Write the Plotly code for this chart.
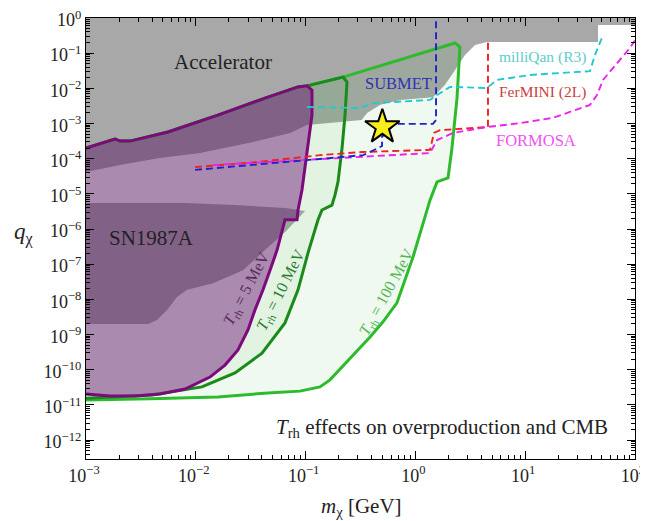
import numpy as np
import plotly.graph_objects as go

SERIF = "'Liberation Serif', 'DejaVu Serif', serif"

# ---------------- data (log10 of m_chi [GeV] and q_chi) ----------------
accel_logm = [-3, 2, 2, 1.663, 1.663, 0.652, 0.543, 0.452, 0.361, 0.270, 0.160, -0.14, -0.32, -0.44,
              -0.49, -0.69, -0.99, -1.14, -1.51, -1.96, -2.33, -2.69, -3]
accel_logq = [0, 0, -0.2, -0.2, -0.68, -0.68, -0.77, -1.05, -1.48, -1.9, -2.25, -2.33, -2.47, -2.70,
              -2.90, -2.96, -3.04, -3.27, -3.55, -3.84, -3.98, -4.18, -4.38]

sn_logm = [-3, -2.098, -1.643, -1.188, -1.005, -1.188, -1.370, -1.570, -1.843, -2.080, -2.171,
           -2.262, -2.353, -2.435, -3]
sn_logq = [-5.26, -5.26, -5.32, -5.40, -5.49, -6.09, -6.60, -7.17, -7.54, -7.73, -7.93,
           -8.30, -8.59, -8.70, -8.70]

trh5_logm = [-3, -2.736, -2.69, -2.599, -2.253, -1.798, -1.342, -1.069, -0.987, -0.942, -0.942,
             -0.987, -1.033, -1.069, -1.078, -1.188, -1.26, -1.324, -1.388, -1.461, -1.525,
             -1.616, -1.734, -1.871, -2.098, -2.326, -2.554, -2.781, -3]
trh5_logq = [-3.70, -3.44, -3.50, -3.50, -3.24, -2.76, -2.25, -1.96, -1.93, -2.05, -2.76,
             -3.75, -4.89, -5.46, -5.74, -5.74, -6.60, -7.17, -7.73, -8.30, -8.87,
             -9.44, -9.87, -10.21, -10.55, -10.69, -10.75, -10.75, -10.69]

trh10_logm = [-3, -2.736, -2.69, -2.599, -2.253, -1.798, -1.342, -1.069, -0.987, -0.659, -0.623,
              -0.641, -0.668, -0.705, -0.732, -0.760, -0.851, -0.887, -0.978, -1.069, -1.188,
              -1.397, -1.643, -1.944, -2.399, -3]
trh10_logq = [-3.70, -3.44, -3.50, -3.50, -3.24, -2.76, -2.25, -1.96, -1.93, -1.68, -1.82,
              -2.76, -3.70, -4.66, -5.03, -5.32, -5.46, -5.74, -6.68, -7.73, -8.67,
              -9.53, -10.09, -10.49, -10.72, -10.81]

trh100_logm = [-3, -2.736, -2.69, -2.599, -2.253, -1.798, -1.342, -1.069, -0.987, -0.659,
               0.361, 0.406, 0.379, 0.333, 0.297, 0.197, 0.133, 0.042, -0.022, -0.168, -0.295,
               -0.413, -0.541, -0.659, -0.778, -0.869, -1.051, -1.342, -1.798, -2.417, -3]
trh100_logq = [-3.70, -3.44, -3.50, -3.50, -3.24, -2.76, -2.25, -1.96, -1.93, -1.68,
               -0.71, -0.83, -2.28, -3.70, -4.55, -4.66, -5.18, -6.11, -6.80, -8.10, -8.64,
               -9.07, -9.50, -9.92, -10.29, -10.49, -10.61, -10.66, -10.78, -10.83, -10.86]

submet_logm = [-2.007, -1.005, -0.687, -0.477, -0.413, -0.304, -0.304, -0.186, 0.160, 0.188, 0.188]
submet_logq = [-4.32, -4.04, -3.95, -3.90, -3.81, -3.64, -3.38, -3.01, -3.01, -2.90, 0]

fermini_logm = [-2.007, -1.415, -0.869, -0.477, 0.133, 0.169, 0.224, 0.652, 0.661, 0.661]
fermini_logq = [-4.24, -4.09, -3.90, -3.81, -3.75, -3.27, -3.19, -3.10, -3.10, -0.68]

formosa_logm = [-1.843, -1.005, -0.441, 0.133, 0.197, 0.342, 0.652, 0.953, 1.253, 1.590, 1.654,
                1.709, 1.954, 2.0]
formosa_logq = [-4.18, -4.04, -3.95, -3.84, -3.47, -3.27, -3.10, -2.99, -2.84, -2.47, -2.19,
                -1.76, -0.85, -0.63]

milliqan_logm = [-0.987, -0.505, -0.386, -0.231, 0.133, 0.197, 0.315, 0.652, 0.743, 1.044, 1.590,
                 1.636, 1.709]
milliqan_logq = [-2.53, -2.56, -2.42, -2.39, -2.33, -2.19, -1.96, -1.99, -1.76, -1.62, -1.51,
                 -1.05, -0.48]

star_m = [0.5]
star_q = [8e-4]

x_tickvals = [1e-3, 1e-2, 1e-1, 1e0, 1e1, 1e2]
x_ticktext = ["10<sup>−3</sup>", "10<sup>−2</sup>", "10<sup>−1</sup>", "10<sup>0</sup>",
              "10<sup>1</sup>", "10<sup>2</sup>"]
y_exps = list(range(-12, 1))
y_tickvals = [10.0 ** e for e in y_exps]
y_ticktext = [("10<sup>−%d</sup>" % -e) if e < 0 else "10<sup>0</sup>" for e in y_exps]


def P(lm, lq):
    return 10 ** np.array(lm, dtype=float), 10 ** np.array(lq, dtype=float)


fig = go.Figure()


def fill(lm, lq, color):
    x, y = P(lm, lq)
    fig.add_trace(go.Scatter(x=x, y=y, mode="lines", fill="toself", fillcolor=color,
                             line=dict(width=0), hoverinfo="skip", showlegend=False))


def line(lm, lq, color, width=3, dash=None):
    x, y = P(lm, lq)
    fig.add_trace(go.Scatter(x=x, y=y, mode="lines",
                             line=dict(color=color, width=width, dash=dash),
                             hoverinfo="skip", showlegend=False))


GRAY = "#a8a8a8"
fill(accel_logm, accel_logq, GRAY)
fill(sn_logm, sn_logq, GRAY)
fill(trh100_logm, trh100_logq, "rgba(40,170,40,0.07)")
fill(trh10_logm, trh10_logq, "rgba(40,170,40,0.07)")
fill(trh5_logm, trh5_logq, "rgba(105,10,115,0.45)")

line(trh100_logm, trh100_logq, "#2dbb2d", 3)
line(trh10_logm, trh10_logq, "#1a8a1a", 3)
line(trh5_logm, trh5_logq, "#7d0a7d", 3)

DASH = "7px,4px"
line(milliqan_logm, milliqan_logq, "#22c8d0", 1.9, DASH)
line(fermini_logm, fermini_logq, "#ee2222", 1.9, DASH)
line(formosa_logm, formosa_logq, "#ee22ee", 1.9, DASH)
line(submet_logm, submet_logq, "#2222cc", 1.9, DASH)

fig.add_trace(go.Scatter(x=star_m, y=star_q, mode="markers",
                         marker=dict(symbol="star", size=26, color="#f8ee1a",
                                     line=dict(color="black", width=2)),
                         hoverinfo="skip", showlegend=False))


def label(x, y, text, size, color, angle=0):
    fig.add_annotation(x=x, y=y, xref="x", yref="y", text=text, showarrow=False,
                       xanchor="center", yanchor="middle",
                       textangle=angle, font=dict(family=SERIF, size=size, color=color))


label(-1.752, -1.25, "Accelerator", 21, "#222222")
label(-2.40, -6.26, "SN1987A", 21, "#222222")
label(-0.158, -1.85, "SUBMET", 16.5, "#3030b8")
label(1.153, -1.11, "milliQan (R3)", 15.5, "#5ccccc")
label(1.153, -2.10, "FerMINI (2L)", 15.5, "#cc4040")
label(1.098, -3.47, "FORMOSA", 16.5, "#ee55ee")
label(-1.534, -7.68, "<i>T</i><sub>rh</sub> = 5 MeV", 16, "#5a2a5a", -62)
label(-1.215, -7.73, "<i>T</i><sub>rh</sub> = 10 MeV", 16, "#2a7a2a", -63)
label(-0.250, -7.79, "<i>T</i><sub>rh</sub> = 100 MeV", 16, "#55b855", -61)
label(0.242, -11.66, "<i>T</i><sub>rh</sub> effects on overproduction and CMB", 21, "#222222")

fig.add_annotation(x=0.501, y=-0.109, xref="paper", yref="paper", showarrow=False,
                   xanchor="center", yanchor="middle",
                   text="<i>m</i><sub>χ</sub> [GeV]", font=dict(family=SERIF, size=21, color="#222222"))
fig.add_annotation(x=-0.113, y=0.512, xref="paper", yref="paper", showarrow=False,
                   xanchor="center", yanchor="middle",
                   text="<i>q</i><sub>χ</sub>", font=dict(family=SERIF, size=23, color="#222222"))

minor_x = [k * 10.0 ** e for e in range(-3, 2) for k in range(2, 10)]
minor_y = [k * 10.0 ** e for e in range(-13, 0) for k in range(2, 10)]

axis_common = dict(type="log", ticks="inside", ticklen=8, tickwidth=1, tickcolor="black",
                   showline=True, linecolor="black", linewidth=1.2, mirror="allticks",
                   showgrid=False, zeroline=False, automargin=False,
                   ticklabeloverflow="allow",
                   tickfont=dict(family=SERIF, size=18, color="#222222"))

fig.update_xaxes(range=[-3, 2], tickmode="array", tickvals=x_tickvals, ticktext=x_ticktext,
                 ticklabelshift=-2,
                 minor=dict(ticks="inside", ticklen=4, tickcolor="black", tickmode="array",
                            tickvals=minor_x, showgrid=False),
                 **axis_common)
fig.update_yaxes(range=[-12.54, 0], tickmode="array", tickvals=y_tickvals, ticktext=y_ticktext,
                 ticklabelshift=2,
                 minor=dict(ticks="inside", ticklen=4, tickcolor="black", tickmode="array",
                            tickvals=minor_y, showgrid=False),
                 **axis_common)

# page body has an 8px default margin: figure is 640x513 so the plot area lands at 86..635 x 18..459
fig.update_layout(width=640, height=513, margin=dict(l=78, r=13, t=10, b=62, autoexpand=False),
                  paper_bgcolor="white", plot_bgcolor="white", showlegend=False,
                  font=dict(family=SERIF))

fig.write_html("out.html")
